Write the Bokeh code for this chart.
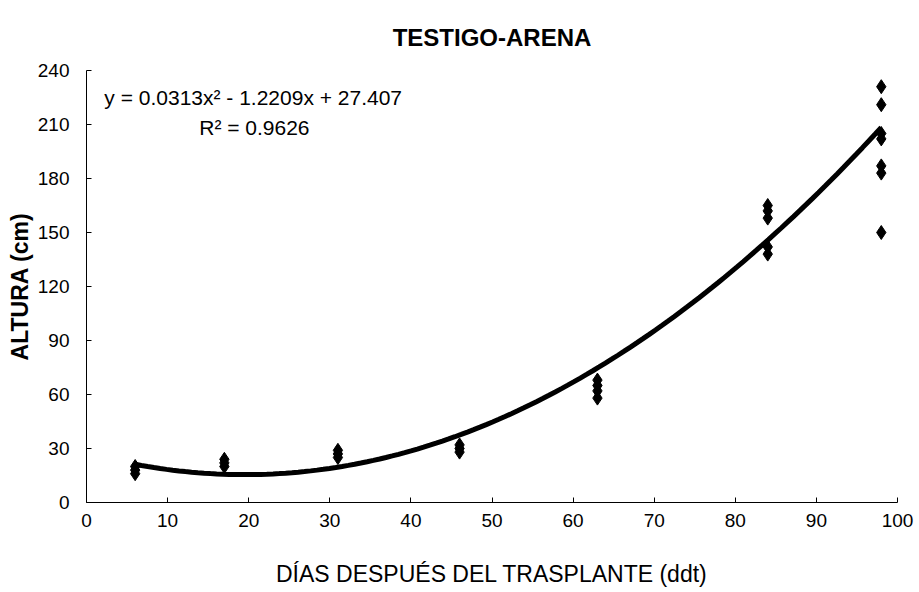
import numpy as np
from bokeh.plotting import figure
from bokeh.models import Label, FixedTicker, Range1d
from bokeh.embed import file_html
from bokeh.resources import INLINE

# Observed plant heights (cm) per sampling day
days = [6, 6, 6,
        17, 17, 17,
        31, 31, 31,
        46, 46, 46,
        63, 63, 63, 63,
        84, 84, 84, 84, 84,
        98, 98, 98, 98, 98, 98, 98]
heights = [16, 18, 20,
           20, 22, 24,
           25, 27, 29,
           28, 30, 32,
           58, 62, 65, 68,
           138, 142, 158, 162, 165,
           150, 183, 187, 202, 205, 221, 231]

# Trendline coefficients as printed on the chart
coef_a = 0.0313
coef_b = -1.2209
coef_c = 27.407
trend_x = np.linspace(6, 98, 120)
trend_y = coef_a * trend_x ** 2 + coef_b * trend_x + coef_c

x_ticks = [0, 10, 20, 30, 40, 50, 60, 70, 80, 90, 100]
y_ticks = [0, 30, 60, 90, 120, 150, 180, 210, 240]

FONT = "Liberation Sans"

p = figure(width=919, height=592, output_backend="svg", toolbar_location=None,
           x_range=Range1d(0, 100), y_range=Range1d(0, 240),
           title="TESTIGO-ARENA",
           min_border_left=86, min_border_right=22,
           min_border_top=70, min_border_bottom=90)
p.outline_line_color = None
p.xgrid.visible = False
p.ygrid.visible = False

p.title.align = "center"
p.title.vertical_align = "top"
p.title.text_font = FONT
p.title.text_font_size = "24px"
p.title.text_font_style = "bold"
p.title.text_color = "black"
p.title.standoff = 36

for ax in (p.xaxis[0], p.yaxis[0]):
    ax.axis_line_color = "black"
    ax.axis_line_width = 1
    ax.major_tick_line_color = "black"
    ax.major_tick_in = 5
    ax.major_tick_out = 0
    ax.minor_tick_line_color = None
    ax.major_label_text_font = FONT
    ax.major_label_text_font_size = "19px"
    ax.major_label_text_color = "black"
    ax.axis_label_text_font = FONT
    ax.axis_label_text_font_size = "23px"
    ax.axis_label_text_color = "black"

p.xaxis.ticker = FixedTicker(ticks=x_ticks)
p.yaxis.ticker = FixedTicker(ticks=y_ticks)
p.xaxis.axis_label = "DÍAS DESPUÉS DEL TRASPLANTE (ddt)"
p.xaxis.axis_label_text_font_style = "normal"
p.xaxis.major_label_standoff = 11
p.xaxis.axis_label_standoff = 31
p.yaxis.axis_label = "ALTURA (cm)"
p.yaxis.axis_label_text_font_style = "bold"
p.yaxis.major_label_standoff = 17
p.yaxis.axis_label_standoff = 2

p.line(trend_x, trend_y, line_color="black", line_width=5)
p.scatter(days, heights, marker="diamond", size=14, fill_color="black",
          line_color="black")

eq = Label(x=2.2, y=225, text="y = 0.0313x² - 1.2209x + 27.407",
           text_font=FONT, text_font_size="21px", text_color="black",
           text_baseline="middle", text_align="left")
r2 = Label(x=20.7, y=208.5, text="R² = 0.9626",
           text_font=FONT, text_font_size="21px", text_color="black",
           text_baseline="middle", text_align="center")
p.add_layout(eq)
p.add_layout(r2)

open("out.html", "w").write(file_html(p, INLINE))
